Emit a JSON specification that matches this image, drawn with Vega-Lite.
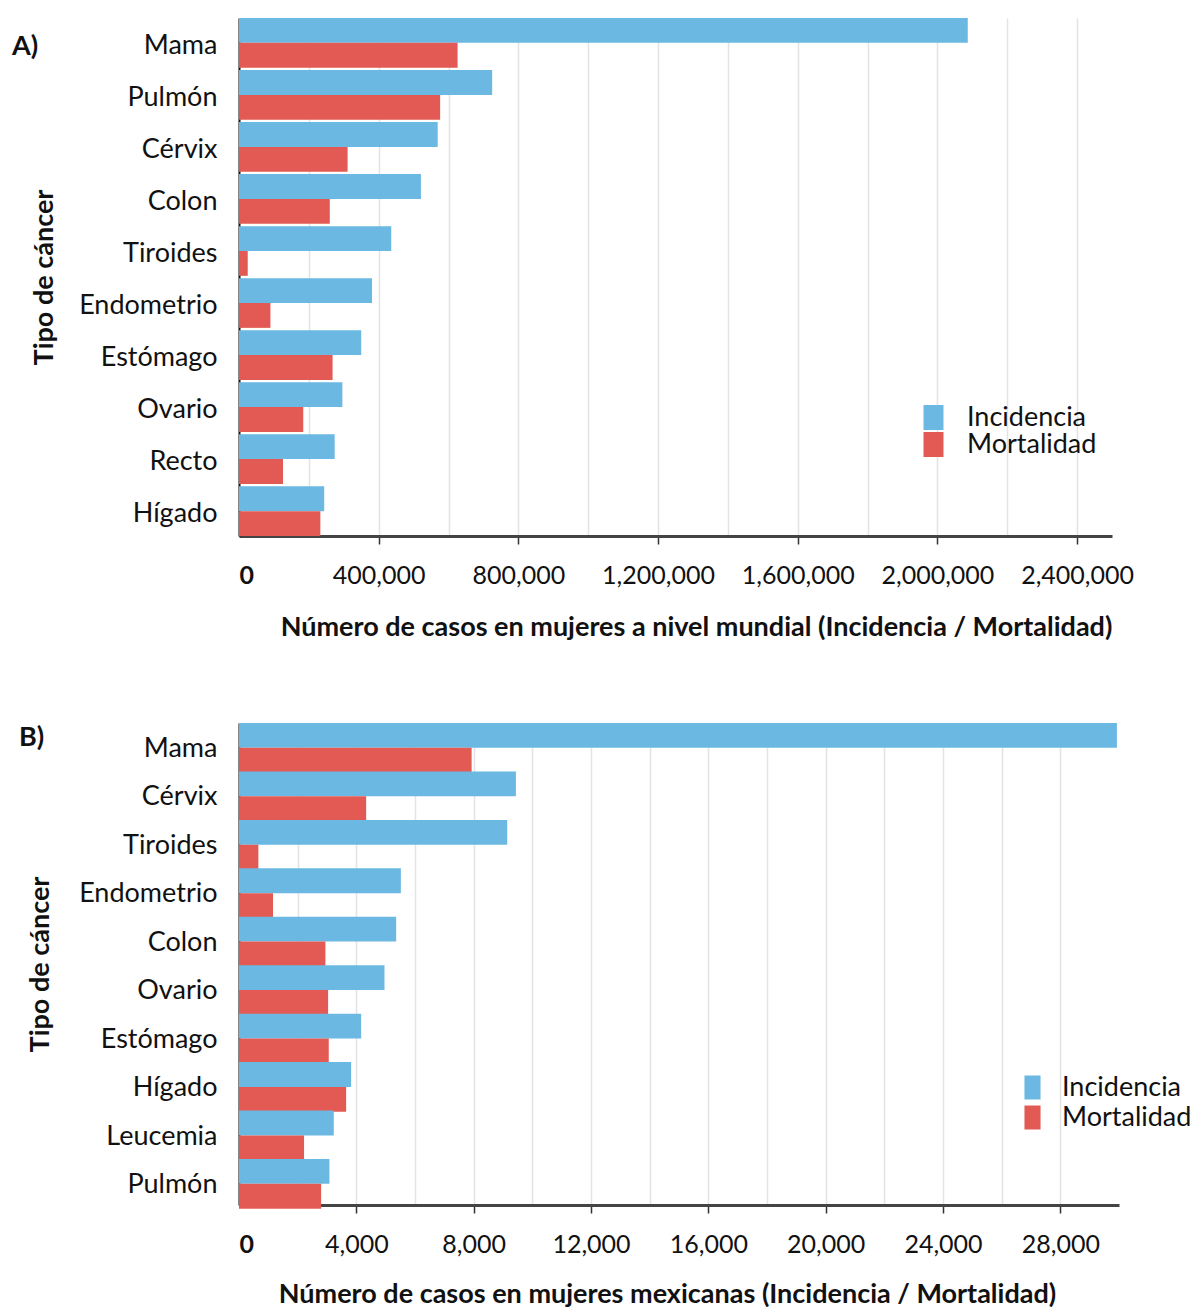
{
  "$schema": "https://vega.github.io/schema/vega-lite/v6.json",
  "background": "white",
  "padding": {"left": 12, "top": 18, "right": 3, "bottom": 5},
  "config": {
    "font": "Lato",
    "view": {"stroke": null},
    "axis": {"labelColor": "#111", "titleColor": "#111", "labelFont": "Lato", "titleFont": "Lato"},
    "legend": {"labelFont": "Lato", "labelColor": "#111", "padding": 0}
  },
  "datasets": {
    "mundial": [
      {"tipo": "Mama", "medida": "Incidencia", "casos": 2087000},
      {"tipo": "Mama", "medida": "Mortalidad", "casos": 626000},
      {"tipo": "Pulmón", "medida": "Incidencia", "casos": 725000},
      {"tipo": "Pulmón", "medida": "Mortalidad", "casos": 576000},
      {"tipo": "Cérvix", "medida": "Incidencia", "casos": 569000},
      {"tipo": "Cérvix", "medida": "Mortalidad", "casos": 311000},
      {"tipo": "Colon", "medida": "Incidencia", "casos": 521000},
      {"tipo": "Colon", "medida": "Mortalidad", "casos": 260000},
      {"tipo": "Tiroides", "medida": "Incidencia", "casos": 436000},
      {"tipo": "Tiroides", "medida": "Mortalidad", "casos": 25000},
      {"tipo": "Endometrio", "medida": "Incidencia", "casos": 381000},
      {"tipo": "Endometrio", "medida": "Mortalidad", "casos": 90000},
      {"tipo": "Estómago", "medida": "Incidencia", "casos": 350000},
      {"tipo": "Estómago", "medida": "Mortalidad", "casos": 268000},
      {"tipo": "Ovario", "medida": "Incidencia", "casos": 296000},
      {"tipo": "Ovario", "medida": "Mortalidad", "casos": 184000},
      {"tipo": "Recto", "medida": "Incidencia", "casos": 274000},
      {"tipo": "Recto", "medida": "Mortalidad", "casos": 126000},
      {"tipo": "Hígado", "medida": "Incidencia", "casos": 244000},
      {"tipo": "Hígado", "medida": "Mortalidad", "casos": 233000}
    ],
    "mexico": [
      {"tipo": "Mama", "medida": "Incidencia", "casos": 29929},
      {"tipo": "Mama", "medida": "Mortalidad", "casos": 7931},
      {"tipo": "Cérvix", "medida": "Incidencia", "casos": 9440},
      {"tipo": "Cérvix", "medida": "Mortalidad", "casos": 4335},
      {"tipo": "Tiroides", "medida": "Incidencia", "casos": 9145},
      {"tipo": "Tiroides", "medida": "Mortalidad", "casos": 660},
      {"tipo": "Endometrio", "medida": "Incidencia", "casos": 5518},
      {"tipo": "Endometrio", "medida": "Mortalidad", "casos": 1160},
      {"tipo": "Colon", "medida": "Incidencia", "casos": 5358},
      {"tipo": "Colon", "medida": "Mortalidad", "casos": 2946},
      {"tipo": "Ovario", "medida": "Incidencia", "casos": 4960},
      {"tipo": "Ovario", "medida": "Mortalidad", "casos": 3038},
      {"tipo": "Estómago", "medida": "Incidencia", "casos": 4164},
      {"tipo": "Estómago", "medida": "Mortalidad", "casos": 3060},
      {"tipo": "Hígado", "medida": "Incidencia", "casos": 3823},
      {"tipo": "Hígado", "medida": "Mortalidad", "casos": 3652},
      {"tipo": "Leucemia", "medida": "Incidencia", "casos": 3231},
      {"tipo": "Leucemia", "medida": "Mortalidad", "casos": 2218},
      {"tipo": "Pulmón", "medida": "Incidencia", "casos": 3083},
      {"tipo": "Pulmón", "medida": "Mortalidad", "casos": 2799}
    ]
  },
  "spacing": 82,
  "resolve": {"scale": {"color": "independent"}, "legend": {"color": "independent"}},
  "vconcat": [
    {
      "title": {"text": "A)", "anchor": "start", "frame": "group", "offset": 0, "dx": -227, "dy": 56, "baseline": "middle", "fontSize": 27, "fontWeight": "bold", "font": "Lato", "color": "#111"},
      "width": 873,
      "height": 518,
      "data": {"name": "mundial"},
      "mark": {"type": "bar"},
      "encoding": {
        "y": {
          "field": "tipo", "type": "nominal",
          "sort": ["Mama", "Pulmón", "Cérvix", "Colon", "Tiroides", "Endometrio", "Estómago", "Ovario", "Recto", "Hígado"],
          "scale": {"paddingInner": 0.045, "paddingOuter": 0},
          "axis": {"title": "Tipo de cáncer", "titleFontSize": 27, "titleFontWeight": "bold", "titlePadding": 20, "labelFontSize": 27, "labelPadding": 22, "labelOffset": 3, "ticks": false, "domainColor": "#111", "domainWidth": 2, "grid": false}
        },
        "yOffset": {"field": "medida", "type": "nominal", "sort": ["Incidencia", "Mortalidad"], "scale": {"paddingInner": 0, "paddingOuter": 0}},
        "x": {
          "field": "casos", "type": "quantitative",
          "scale": {"domain": [0, 2500000], "nice": false},
          "axis": {
            "title": "Número de casos en mujeres a nivel mundial (Incidencia / Mortalidad)",
            "titleFontSize": 27, "titleFontWeight": "bold", "titleX": 457, "titleY": 91, "titleBaseline": "middle", "titleAlign": "center",
            "values": [0, 200000, 400000, 600000, 800000, 1000000, 1200000, 1400000, 1600000, 1800000, 2000000, 2200000, 2400000],
            "format": ",d",
            "labelExpr": "datum.value % 400000 === 0 ? datum.label : ''",
            "labelOverlap": false,
            "labelFontSize": 25, "labelPadding": 19,
            "labelFontWeight": {"condition": {"test": "datum.value === 0", "value": "bold"}, "value": "normal"},
            "tickSize": 8, "tickColor": "#333", "tickWidth": 1.5,
            "tickOpacity": {"condition": {"test": "datum.value % 400000 === 0 && datum.value > 0", "value": 1}, "value": 0},
            "domainColor": "#444", "domainWidth": 3,
            "grid": true, "gridColor": "#e3e3e3", "gridWidth": 1.5
          }
        },
        "color": {
          "field": "medida", "type": "nominal",
          "scale": {"domain": ["Incidencia", "Mortalidad"], "range": ["#6BB8E2", "#E25A53"]},
          "legend": {"title": null, "orient": "none", "legendX": 681, "legendY": 386, "symbolType": "M-0.8,-1H0.8V1H-0.8Z", "symbolSize": 625, "symbolStrokeWidth": 0, "labelFontSize": 27, "labelOffset": 20, "rowPadding": -1}
        }
      }
    },
    {
      "title": {"text": "B)", "anchor": "start", "frame": "group", "offset": 0, "dx": -220, "dy": 42, "baseline": "middle", "fontSize": 27, "fontWeight": "bold", "font": "Lato", "color": "#111"},
      "width": 880,
      "height": 482,
      "data": {"name": "mexico"},
      "mark": {"type": "bar"},
      "encoding": {
        "y": {
          "field": "tipo", "type": "nominal",
          "sort": ["Mama", "Cérvix", "Tiroides", "Endometrio", "Colon", "Ovario", "Estómago", "Hígado", "Leucemia", "Pulmón"],
          "scale": {"paddingInner": 0.05, "paddingOuter": 0},
          "axis": {"title": "Tipo de cáncer", "titleFontSize": 27, "titleFontWeight": "bold", "titlePadding": 24, "labelFontSize": 27, "labelPadding": 22, "labelOffset": 3, "ticks": false, "domainColor": "#111", "domainWidth": 2, "grid": false}
        },
        "yOffset": {"field": "medida", "type": "nominal", "sort": ["Incidencia", "Mortalidad"], "scale": {"paddingInner": 0, "paddingOuter": 0}},
        "x": {
          "field": "casos", "type": "quantitative",
          "scale": {"domain": [0, 30000], "nice": false},
          "axis": {
            "title": "Número de casos en mujeres mexicanas (Incidencia / Mortalidad)",
            "titleFontSize": 27, "titleFontWeight": "bold", "titleX": 428, "titleY": 89, "titleBaseline": "middle", "titleAlign": "center",
            "values": [0, 2000, 4000, 6000, 8000, 10000, 12000, 14000, 16000, 18000, 20000, 22000, 24000, 26000, 28000],
            "format": ",d",
            "labelExpr": "datum.value % 4000 === 0 ? datum.label : ''",
            "labelOverlap": false,
            "labelFontSize": 25, "labelPadding": 19,
            "labelFontWeight": {"condition": {"test": "datum.value === 0", "value": "bold"}, "value": "normal"},
            "tickSize": 8, "tickColor": "#333", "tickWidth": 1.5,
            "tickOpacity": {"condition": {"test": "datum.value % 4000 === 0 && datum.value > 0", "value": 1}, "value": 0},
            "domainColor": "#444", "domainWidth": 3,
            "grid": true, "gridColor": "#e3e3e3", "gridWidth": 1.5
          }
        },
        "color": {
          "field": "medida", "type": "nominal",
          "scale": {"domain": ["Incidencia", "Mortalidad"], "range": ["#6BB8E2", "#E25A53"]},
          "legend": {"title": null, "orient": "none", "legendX": 780, "legendY": 351, "symbolType": "M-0.67,-1H0.67V1H-0.67Z", "symbolSize": 576, "symbolStrokeWidth": 0, "labelFontSize": 27, "labelOffset": 16, "rowPadding": 2}
        }
      }
    }
  ]
}
